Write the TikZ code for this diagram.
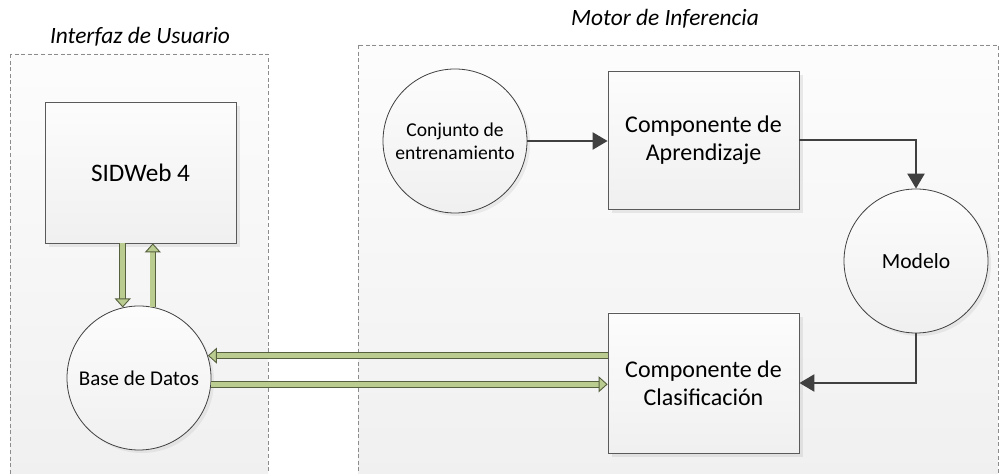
\documentclass[tikz,border=0pt]{standalone}
\usepackage{fontspec}
\setmainfont{Carlito}
\usetikzlibrary{arrows.meta,shadows}

\definecolor{arealine}{HTML}{8C8C8C}
\definecolor{shapeline}{HTML}{5A5A5A}
\definecolor{flowline}{HTML}{404040}
\definecolor{greenfill}{HTML}{BBCC90}
\definecolor{greenline}{HTML}{56603E}

\begin{document}
\begin{tikzpicture}[x=0.5pt,y=-0.5pt,
    area/.style={draw=arealine, dash pattern=on 2pt off 1.3pt, top color=gray!2, bottom color=gray!12},
    title/.style={font=\fontsize{11.7}{14}\selectfont\itshape},
    block/.style={draw=shapeline, top color=gray!2, bottom color=gray!12, align=center,
        minimum width=95.5pt, font=\fontsize{12}{14}\selectfont,
        drop shadow={shadow xshift=2pt, shadow yshift=-2pt, opacity=0.15}},
    disc/.style={circle, draw=flowline, top color=gray!2, bottom color=gray!12, align=center,
        minimum size=72pt, inner sep=0pt,
        drop shadow={shadow xshift=1.5pt, shadow yshift=-1.5pt, opacity=0.12}},
    flow/.style={draw=flowline, line width=1.2pt, -{Triangle[width=8.5pt,length=7.5pt]}},
    dbl/.style={draw=greenline, line width=0.45pt, double=greenfill, double distance=2.4pt,
        -{Triangle[width=8pt,length=4.5pt,fill=greenfill,line width=0.45pt]}}]
\useasboundingbox (0,0) rectangle (1000,474);

% Containers
\fill[area] (10,54) rectangle (268,490);
\fill[area] (358,45) rectangle (998,490);
\node[title] at (140,37) (ui) {Interfaz de Usuario};
\node[title] at (665,19) (mi) {Motor de Inferencia};

% User interface side
\node[block, minimum height=70.5pt, font=\fontsize{12.6}{15}\selectfont] at (140.5,172.5) (sidweb) {SIDWeb 4};
\node[disc, font=\fontsize{10.5}{13}\selectfont] at (139,378) (bd) {Base de Datos};

% Inference engine side
\node[disc, font=\fontsize{9.8}{11.5}\selectfont] at (455,141) (conj) {Conjunto de\\entrenamiento};
\node[block, minimum height=69pt] at (703.5,140) (apr) {Componente de\\Aprendizaje};
\node[disc, font=\fontsize{10.8}{13}\selectfont] at (916,261) (modelo) {Modelo};
\node[block, minimum height=70pt] at (703.5,383) (clas) {Componente de\\Clasificación};

% Flow of the engine
\draw[flow] (conj.east) -- (conj.east -| apr.west);
\draw[flow] (apr.east) -| (modelo.north);
\draw[flow] (modelo.south) |- (clas.east);

% Data exchange
\draw[dbl] (sidweb.south -| bd.103) -- (bd.103);
\draw[dbl] (bd.79.5) -- (sidweb.south -| bd.79.5);
\draw[dbl] (clas.west |- bd.18) -- (bd.18);
\draw[dbl] (bd.-5) -- (clas.west |- bd.-5);

\end{tikzpicture}
\end{document}
